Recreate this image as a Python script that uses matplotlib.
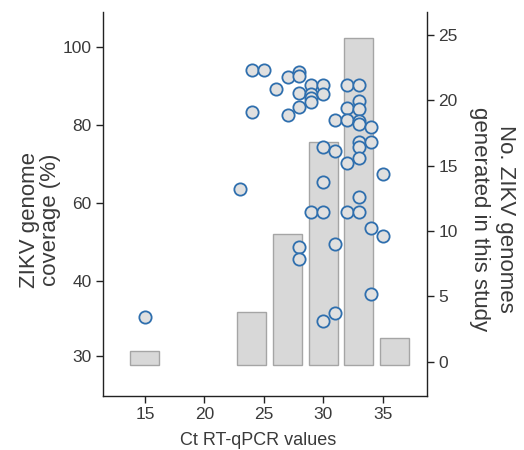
import numpy as np
import matplotlib
matplotlib.use("Agg")
import matplotlib.pyplot as plt

# ---- data ----
bin_centers = [15, 24, 27, 30, 33, 36]
genome_counts = [1, 4, 10, 17, 25, 2]

ct_values = [15, 23, 24, 24, 25, 26, 27, 27,
             28, 28, 28, 28, 28, 28,
             29, 29, 29, 29, 29,
             30, 30, 30, 30, 30, 30,
             31, 31, 31, 31,
             32, 32, 32, 32, 32,
             33, 33, 33, 33, 33, 33, 33, 33, 33, 33,
             34, 34, 34, 34,
             35, 35]
coverage = [35.2, 63.5, 94.1, 83.3, 94.1, 89.2, 92.3, 82.5,
            93.6, 92.7, 88.3, 84.6, 48.7, 45.6,
            90.2, 88.0, 86.9, 85.9, 57.6,
            90.2, 88.1, 74.4, 65.4, 57.6, 34.7,
            81.3, 73.3, 49.6, 35.7,
            90.2, 84.4, 81.3, 70.3, 57.6,
            90.2, 86.2, 84.1, 81.0, 80.4, 75.7, 74.3, 71.5, 61.5, 57.6,
            79.4, 75.7, 53.6, 38.3,
            67.4, 51.5]

left_ticks = [30, 40, 60, 80, 100]
right_ticks = [0, 5, 10, 15, 20, 25]
x_ticks = [15, 20, 25, 30, 35]

plt.rcParams['font.family'] = ['Liberation Sans', 'DejaVu Sans']
TXT = '#3a3a3a'

fig = plt.figure(figsize=(5.24, 4.5), dpi=100)
ax = fig.add_axes([0.196, 0.1207, 0.619, 0.8523])
ax2 = ax.twinx()
ax.set_zorder(ax2.get_zorder() + 1)
ax.patch.set_visible(False)

# bars (right axis)
ax2.bar(bin_centers, np.array(genome_counts) + 0.05, bottom=-0.25, width=2.44,
        color='#d8d8d8', edgecolor='#a5a5a5', linewidth=1.0)
ax2.set_ylim(-2.6, 26.76)
ax2.set_yticks(right_ticks)

# piecewise scale for coverage axis
def fwd(c):
    c = np.asarray(c, dtype=float)
    return np.where(c < 40, (c - 40) * 7.5, (c - 40) * 3.9)

def inv(u):
    u = np.asarray(u, dtype=float)
    return np.where(u < 0, 40 + u / 7.5, 40 + u / 3.9)

ax.set_yscale('function', functions=(fwd, inv))
ax.scatter(ct_values, coverage, s=78, facecolor='#e0e0e0', edgecolor='#2f6fae',
           linewidths=1.3, zorder=3)
ax.set_ylim(24.7, 109)
ax.set_yticks(left_ticks)
ax.set_yticklabels([str(t) for t in left_ticks])
ax.yaxis.set_minor_locator(matplotlib.ticker.NullLocator())
ax.set_xlim(11.45, 38.73)
ax.set_xticks(x_ticks)

for a in (ax, ax2):
    a.spines['top'].set_visible(False)
    for s in a.spines.values():
        s.set_color('#222222')
        s.set_linewidth(1.0)
    a.tick_params(direction='out', length=5, width=1.0, colors='#222222',
                  labelcolor=TXT, labelsize=12.5, pad=3)
ax.spines['right'].set_visible(False)
ax2.spines['left'].set_visible(False)
ax2.spines['bottom'].set_visible(False)

ax.set_xlabel('Ct RT-qPCR values', fontsize=13, color=TXT)
ax.xaxis.set_label_coords(0.48, -0.095)
ax.set_ylabel('ZIKV genome\ncoverage (%)', fontsize=16, color=TXT, linespacing=1.0)
ax.yaxis.set_label_coords(-0.128, 0.458)
ax2.set_ylabel('No. ZIKV genomes\ngenerated in this study', fontsize=16, color=TXT,
               rotation=270, linespacing=1.3, va='bottom')
ax2.yaxis.set_label_coords(1.13, 0.46)

fig.savefig('out.png', dpi=100)
